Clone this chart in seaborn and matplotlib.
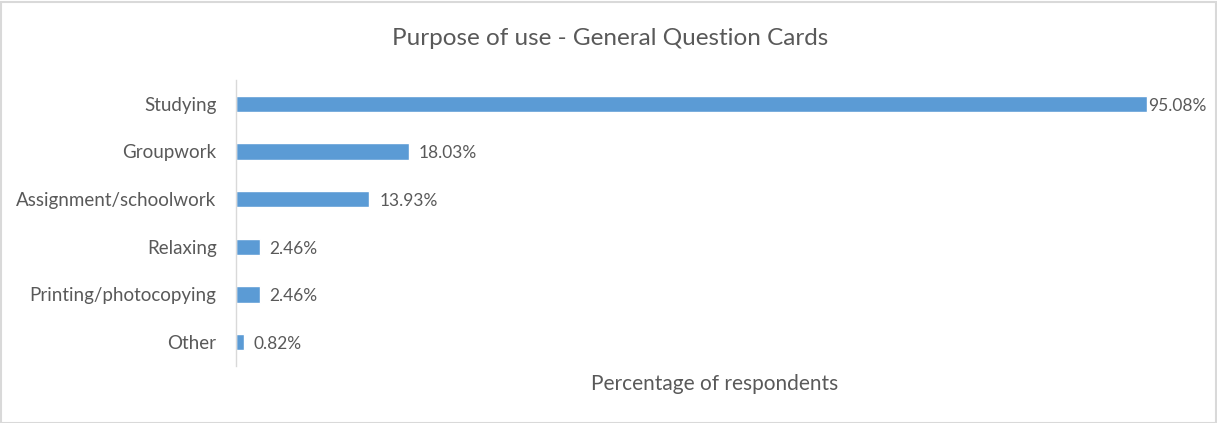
import matplotlib
matplotlib.use("Agg")
import matplotlib.pyplot as plt
import seaborn as sns
import pandas as pd
from matplotlib.patches import Rectangle

categories = ["Studying", "Groupwork", "Assignment/schoolwork", "Relaxing",
              "Printing/photocopying", "Other"]
percentages = [95.08, 18.03, 13.93, 2.46, 2.46, 0.82]
value_labels = ["95.08%", "18.03%", "13.93%", "2.46%", "2.46%", "0.82%"]

df = pd.DataFrame({"category": categories, "pct": percentages})

sns.set_theme(style="white")
plt.rcParams["font.family"] = ["Lato", "DejaVu Sans"]
text_color = "#595959"
bar_color = "#5B9BD5"

fig = plt.figure(figsize=(12.17, 4.23), dpi=100)
ax = fig.add_axes([0.1939, 0.1348, 0.7872, 0.6762])

sns.barplot(data=df, x="pct", y="category", color=bar_color, width=0.34,
            saturation=1, ax=ax, orient="h")

ax.set_xlim(0, 100)
ax.set_ylim(len(categories) - 0.5, -0.5)
ax.set_xticks([])
ax.set_ylabel("")
ax.set_xlabel("Percentage of respondents", fontsize=15, color=text_color, labelpad=6)
ax.tick_params(axis="y", length=0, pad=14, labelsize=13.5, labelcolor=text_color)

for s in ["top", "right", "bottom"]:
    ax.spines[s].set_visible(False)
ax.spines["left"].set_color("#D9D9D9")
ax.spines["left"].set_linewidth(1)

# Value labels just past the end of each bar
pads = [1, 10, 10, 10, 10, 10]
for bar, lab, p in zip(ax.patches, value_labels, pads):
    ax.annotate(lab, (bar.get_width(), bar.get_y() + bar.get_height() / 2),
                xytext=(p, -2), textcoords="offset pixels", va="center", ha="left",
                fontsize=12.5, color=text_color)

fig.text(0.501, 0.91, "Purpose of use - General Question Cards", ha="center",
         va="center", fontsize=17.5, color=text_color)

fig.patches.append(Rectangle((0.001, 0.0), 0.998, 0.996, transform=fig.transFigure,
                             fill=False, edgecolor="#D9D9D9", linewidth=1.5))

fig.savefig("out.png", dpi=100, facecolor="white")
